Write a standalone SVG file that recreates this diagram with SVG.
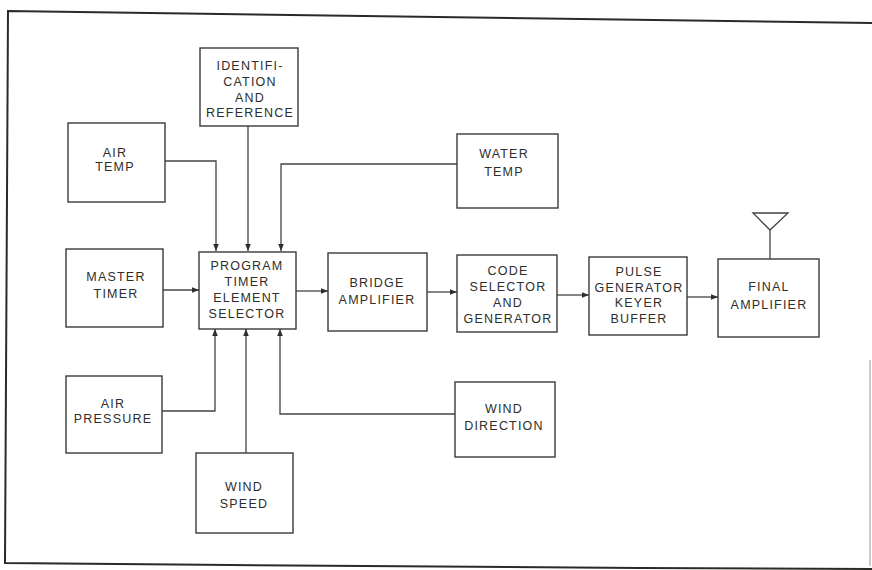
<svg xmlns="http://www.w3.org/2000/svg" width="872" height="570" viewBox="0 0 872 570">
<style>
.box{fill:#fff;stroke:#3a3a36;stroke-width:1.4}
.t{font-family:"Liberation Sans",Arial,sans-serif;font-size:12.5px;letter-spacing:1.2px;fill:#2e2e2a;text-anchor:middle}
.c{fill:none;stroke:#44443f;stroke-width:1.3}
.frame{fill:none;stroke:#2a2a26;stroke-width:2}
</style>
<defs>
<marker id="ah" viewBox="0 0 10 10" refX="10" refY="5" markerWidth="7" markerHeight="7" markerUnits="userSpaceOnUse" orient="auto">
<path d="M0,1 L10,5 L0,9 Z" fill="#2e2e2a"/>
</marker>
</defs>
<rect width="872" height="570" fill="#fff"/>
<g id="frame">
<polyline class="frame" points="872,23 8,11 5,563 230,565 640,568 872,569"/>
<line x1="870" y1="360" x2="870" y2="566" stroke="#999" stroke-width="1"/>
</g>
<g id="connectors">
<polyline class="c" points="165,161 216,161 216,251" marker-end="url(#ah)"/>
<polyline class="c" points="248,126 248,251" marker-end="url(#ah)"/>
<polyline class="c" points="457,164 281,164 281,251" marker-end="url(#ah)"/>
<polyline class="c" points="163,290 199,290" marker-end="url(#ah)"/>
<polyline class="c" points="162,411 215,411 215,329" marker-end="url(#ah)"/>
<polyline class="c" points="246,453 246,329" marker-end="url(#ah)"/>
<polyline class="c" points="455,414 280,414 280,329" marker-end="url(#ah)"/>
<polyline class="c" points="296,291 328,291" marker-end="url(#ah)"/>
<polyline class="c" points="427,292 457,292" marker-end="url(#ah)"/>
<polyline class="c" points="557,295 589,295" marker-end="url(#ah)"/>
<polyline class="c" points="687,297 718,297" marker-end="url(#ah)"/>
<line class="c" x1="770" y1="230" x2="770" y2="259"/>
<polygon class="c" points="753,213 788,213 770,230"/>
</g>
<g id="ident">
<rect class="box" x="200" y="48" width="98" height="78"/>
<text class="t" x="250" y="70">IDENTIFI-</text>
<text class="t" x="250" y="86">CATION</text>
<text class="t" x="250" y="102">AND</text>
<text class="t" x="250" y="117">REFERENCE</text>
</g>
<g id="airtemp">
<rect class="box" x="68" y="123" width="97" height="79"/>
<text class="t" x="115" y="157">AIR</text>
<text class="t" x="115" y="171">TEMP</text>
</g>
<g id="watertemp">
<rect class="box" x="457" y="134" width="101" height="74"/>
<text class="t" x="504" y="158">WATER</text>
<text class="t" x="504" y="176">TEMP</text>
</g>
<g id="mastertimer">
<rect class="box" x="66" y="249" width="97" height="78"/>
<text class="t" x="116" y="281">MASTER</text>
<text class="t" x="116" y="298">TIMER</text>
</g>
<g id="program">
<rect class="box" x="199" y="252" width="97" height="77"/>
<text class="t" x="247" y="270">PROGRAM</text>
<text class="t" x="247" y="286">TIMER</text>
<text class="t" x="247" y="302">ELEMENT</text>
<text class="t" x="247" y="318">SELECTOR</text>
</g>
<g id="bridge">
<rect class="box" x="328" y="253" width="99" height="78"/>
<text class="t" x="377" y="287">BRIDGE</text>
<text class="t" x="377" y="304">AMPLIFIER</text>
</g>
<g id="code">
<rect class="box" x="457" y="255" width="100" height="77"/>
<text class="t" x="508" y="275">CODE</text>
<text class="t" x="508" y="291">SELECTOR</text>
<text class="t" x="508" y="307">AND</text>
<text class="t" x="508" y="323">GENERATOR</text>
</g>
<g id="pulse">
<rect class="box" x="589" y="257" width="98" height="78"/>
<text class="t" x="639" y="276">PULSE</text>
<text class="t" x="639" y="292">GENERATOR</text>
<text class="t" x="639" y="307">KEYER</text>
<text class="t" x="639" y="323">BUFFER</text>
</g>
<g id="final">
<rect class="box" x="718" y="259" width="101" height="78"/>
<text class="t" x="769" y="291">FINAL</text>
<text class="t" x="769" y="309">AMPLIFIER</text>
</g>
<g id="airpressure">
<rect class="box" x="66" y="376" width="96" height="77"/>
<text class="t" x="113" y="408">AIR</text>
<text class="t" x="113" y="423">PRESSURE</text>
</g>
<g id="windspeed">
<rect class="box" x="196" y="453" width="97" height="80"/>
<text class="t" x="244" y="491">WIND</text>
<text class="t" x="244" y="508">SPEED</text>
</g>
<g id="winddirection">
<rect class="box" x="455" y="382" width="100" height="75"/>
<text class="t" x="504" y="413">WIND</text>
<text class="t" x="504" y="430">DIRECTION</text>
</g>
</svg>
